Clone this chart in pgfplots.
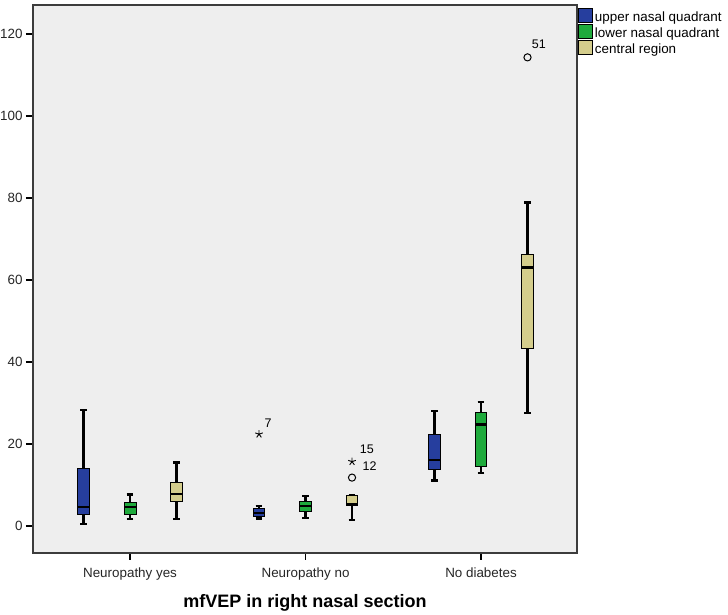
\documentclass[border=0pt]{standalone}
\usepackage{pgfplots}
\pgfplotsset{compat=1.18}
\usepgfplotslibrary{statistics}
\usepackage{fontspec}
\setmainfont{Liberation Sans}
\definecolor{upperC}{RGB}{38,62,158}
\definecolor{lowerC}{RGB}{30,170,60}
\definecolor{centralC}{RGB}{212,205,140}
\definecolor{plotbg}{RGB}{238,238,238}
\definecolor{axC}{RGB}{60,60,60}
\pgfplotsset{
  spss/.style={forget plot, draw=black, line width=1bp,
    boxplot prepared={draw direction=y, box extend=0.068, whisker extend=0.038,
      every whisker/.style={line width=2.3bp},
      every median/.style={line width=2.6bp},
      #1}},
}
\begin{document}
\begin{tikzpicture}
\useasboundingbox (0,0) rectangle (728bp,615bp);
\begin{axis}[
  at={(33bp,62bp)}, anchor=south west,
  scale only axis, width=544bp, height=548bp,
  xmin=0.447, xmax=3.547, ymin=-6.59, ymax=127.07,
  axis background/.style={fill=plotbg},
  axis line style={axC, line width=1.3bp},
  xtick={1,2,3},
  xticklabels={Neuropathy yes,Neuropathy no,No diabetes},
  ytick={0,20,...,120},
  tick align=outside, tick pos=left,
  major tick length=7bp,
  tick style={black, line width=1.2bp},
  /pgf/number format/assume math mode=true,
  ticklabel style={font=\fontsize{13.4bp}{15bp}\selectfont, text=black!85},
  xticklabel style={yshift=-4bp},
  xlabel={\textbf{mfVEP in right nasal section}},
  xlabel style={font=\fontsize{18bp}{21bp}\selectfont, at={(axis description cs:0.5,0)}, anchor=center, yshift=-49.5bp},
  legend style={at={(axis description cs:1,1)}, anchor=north west, draw=none, fill=none,
    font=\fontsize{13.4bp}{16.5bp}\selectfont, xshift=0bp, yshift=-2bp, inner sep=1bp,
    row sep=-1.2bp},
  legend cell align=left,
  legend image code/.code={\draw[#1, draw=black, line width=0.8bp] (0bp,-5bp) rectangle (14bp,9bp);},
]
\addlegendimage{fill=upperC}
\addlegendentry{upper nasal quadrant}
\addlegendimage{fill=lowerC}
\addlegendentry{lower nasal quadrant}
\addlegendimage{fill=centralC}
\addlegendentry{central region}

% Neuropathy yes
\addplot+[fill=upperC, spss={draw position=0.735,
  lower whisker=0.5, lower quartile=2.7, median=4.6, upper quartile=14.1, upper whisker=28.3}] coordinates {};
\addplot+[fill=lowerC, spss={draw position=1,
  lower whisker=1.7, lower quartile=2.9, median=4.6, upper quartile=5.8, upper whisker=7.7}] coordinates {};
\addplot+[fill=centralC, spss={draw position=1.265,
  lower whisker=1.7, lower quartile=5.9, median=7.8, upper quartile=10.6, upper whisker=15.5}] coordinates {};

% Neuropathy no
\addplot+[fill=upperC, spss={draw position=1.735,
  lower whisker=1.8, lower quartile=2.4, median=3.2, upper quartile=4.3, upper whisker=4.9}] coordinates {};
\addplot+[fill=lowerC, spss={draw position=2,
  lower whisker=2.0, lower quartile=3.5, median=4.9, upper quartile=5.9, upper whisker=7.3}] coordinates {};
\addplot+[fill=centralC, spss={draw position=2.265,
  lower whisker=1.5, lower quartile=4.9, median=5.2, upper quartile=7.4, upper whisker=7.4}] coordinates {};

% No diabetes
\addplot+[fill=upperC, spss={draw position=2.735,
  lower whisker=11.1, lower quartile=13.7, median=16.1, upper quartile=22.4, upper whisker=28.1}] coordinates {};
\addplot+[fill=lowerC, spss={draw position=3,
  lower whisker=12.9, lower quartile=14.5, median=24.8, upper quartile=27.7, upper whisker=30.3}] coordinates {};
\addplot+[fill=centralC, spss={draw position=3.265,
  lower whisker=27.5, lower quartile=43.2, median=63.1, upper quartile=66.3, upper whisker=78.9}] coordinates {};

% outliers
\addplot[forget plot, only marks, mark=star, mark size=4bp, mark options={black, line width=0.9bp}]
  coordinates {(1.735,22.4) (2.265,15.7)};
\addplot[forget plot, only marks, mark=o, mark size=3.6bp, mark options={black, line width=1bp}]
  coordinates {(2.265,11.8) (3.265,114.3)};

\node[font=\fontsize{12.5bp}{14bp}\selectfont] at (axis cs:1.787,25.1) {7};
\node[font=\fontsize{12.5bp}{14bp}\selectfont] at (axis cs:2.35,18.8) {15};
\node[font=\fontsize{12.5bp}{14bp}\selectfont] at (axis cs:2.365,14.7) {12};
\node[font=\fontsize{12.5bp}{14bp}\selectfont] at (axis cs:3.33,117.6) {51};
\end{axis}
\end{tikzpicture}
\end{document}
